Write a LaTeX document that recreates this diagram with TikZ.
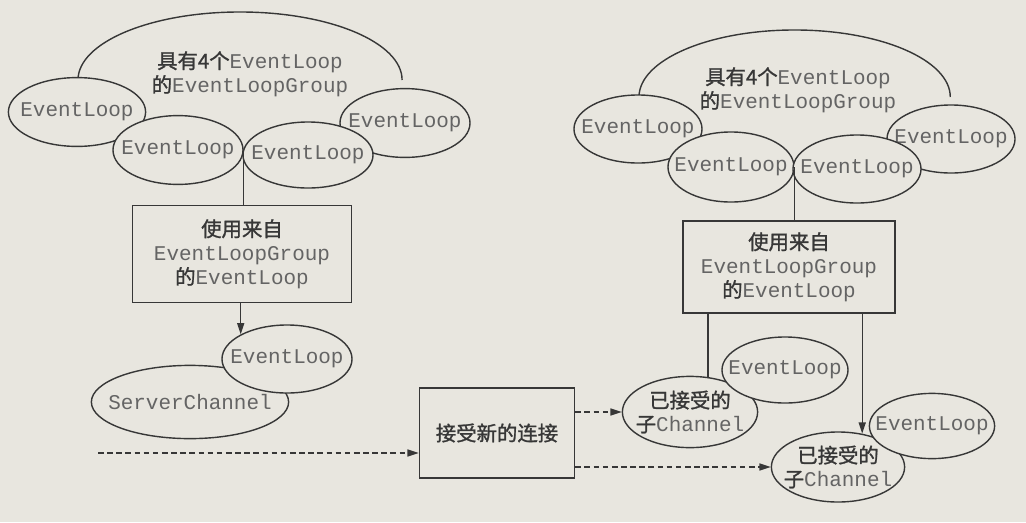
\documentclass[tikz,border=0pt]{standalone}
\usepackage{fontspec}
\setmonofont{Liberation Mono}
\newfontfamily\cjk{Noto Sans CJK SC}[FakeBold=1.2]
\usepackage{tikz}
\usetikzlibrary{arrows.meta, positioning, shapes.geometric}

\definecolor{paper}{RGB}{232,230,223}
\definecolor{ink}{RGB}{55,55,55}
\definecolor{monoink}{RGB}{100,100,100}
\newcommand{\zh}[1]{{\cjk\fontsize{14.5}{17}\selectfont\color{ink}#1}}
\newcommand{\nowide}[1]{\makebox[0pt]{#1}}

\tikzset{
  loopnode/.style={ellipse, draw=ink, fill=paper, line width=1pt, inner sep=0pt,
    minimum width=3.25cm, minimum height=1.72cm, align=center,
    font=\ttfamily\fontsize{14.9}{17}\selectfont, text=monoink},
  chan/.style={loopnode, minimum width=3.38cm, minimum height=1.78cm},
  usebox/.style={rectangle, draw=ink, fill=paper, line width=1pt, inner sep=0pt, align=center,
    font=\ttfamily\fontsize{14.9}{17}\selectfont, text=monoink},
  grplabel/.style={align=center, inner sep=0pt,
    font=\ttfamily\fontsize{14.9}{17}\selectfont, text=monoink},
  flow/.style={draw=ink, line width=1pt, -{Triangle[length=8pt,width=5pt]}},
  newconn/.style={flow, dash pattern=on 4pt off 2.5pt},
  plain/.style={draw=ink, line width=1pt}
}

\begin{document}
\begin{tikzpicture}[x=0.025cm, y=-0.025cm]
\fill[paper] (0,0) rectangle (1026,522);
\useasboundingbox (0,0) rectangle (1026,522);

% left group
\draw[plain] (78,80) arc[start angle=180, end angle=0, x radius=4.05cm, y radius=1.7cm];
\node[grplabel] (lblL) at (250,74) {\zh{具有4个}EventLoop\\\zh{的}EventLoopGroup};
\node[loopnode, minimum width=3.43cm] (el1L) at (77,112) {\nowide{EventLoop}};
\node[loopnode] (el4L) at (405,123) {\nowide{EventLoop}};
\node[loopnode] (el2L) at (178,150) {\nowide{EventLoop}};
\node[loopnode, minimum height=1.65cm] (el3L) at (308,155) {\nowide{EventLoop}};

\node[usebox, minimum width=5.48cm, minimum height=2.43cm] (useL) at (242,254)
  {\zh{使用来自}\\EventLoopGroup\\\zh{的}EventLoop};
\draw[plain] (el2L.east) -- (el2L.east |- useL.north);

% server channel
\node[loopnode, minimum width=4.93cm, minimum height=1.83cm] (srv) at (190,402) {\nowide{ServerChannel}};
\node[loopnode, minimum height=1.7cm] (elS) at (287,359) {\nowide{EventLoop}};
\draw[flow] (elS.152 |- useL.south) -- (elS.152);

% accept
\node[usebox, minimum width=3.88cm, minimum height=2.25cm] (acc) at (497,433) {\zh{接受新的连接}};
\coordinate (in) at (98,453);
\draw[newconn] (in) -- (in -| acc.west);

% right group
\draw[plain] (639,97) arc[start angle=180, end angle=0, x radius=3.89cm, y radius=1.675cm];
\node[grplabel] (lblR) at (798,90) {\zh{具有4个}EventLoop\\\zh{的}EventLoopGroup};
\node[loopnode, minimum width=3.2cm, minimum height=1.7cm] (el1R) at (638,129) {\nowide{EventLoop}};
\node[loopnode, minimum width=3.2cm, minimum height=1.7cm] (el4R) at (951,139) {\nowide{EventLoop}};
\node[loopnode, minimum width=3.15cm, minimum height=1.75cm] (el2R) at (731,167) {\nowide{EventLoop}};
\node[loopnode, minimum width=3.2cm, minimum height=1.7cm] (el3R) at (857,169) {\nowide{EventLoop}};

\node[usebox, minimum width=5.3cm, minimum height=2.3cm] (useR) at (789,267)
  {\zh{使用来自}\\EventLoopGroup\\\zh{的}EventLoop};
\draw[plain] (el2R.east) -- (el2R.east |- useR.north);

% accepted child channels
\node[chan] (kid1) at (690,412) {\nowide{\zh{已接受的}}\\\nowide{\zh{子}Channel}};
\node[loopnode, minimum width=3.15cm, minimum height=1.65cm] (elK1) at (785,370) {\nowide{EventLoop}};
\node[chan, minimum width=3.33cm, minimum height=1.75cm] (kid2) at (838,467) {\nowide{\zh{已接受的}}\\\nowide{\zh{子}Channel}};
\node[loopnode, minimum width=3.13cm, minimum height=1.63cm] (elK2) at (932,426) {\nowide{EventLoop}};

\draw[plain] (kid1.63 |- useR.south) -- (kid1.63);
\draw[flow] (kid2.54 |- useR.south) -- (kid2.54);
\draw[newconn] (acc.east |- kid1.west) -- (kid1.west);
\draw[newconn] (acc.east |- kid2.west) -- (kid2.west);
\end{tikzpicture}
\end{document}
